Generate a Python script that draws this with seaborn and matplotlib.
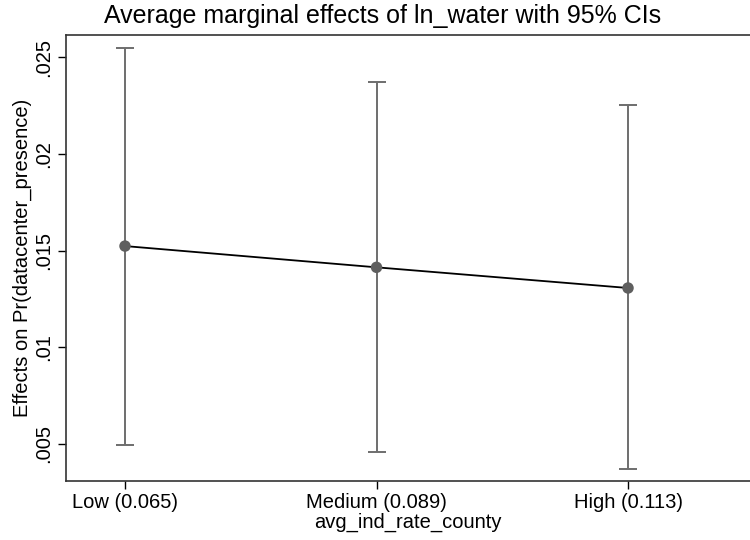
import matplotlib
matplotlib.use("Agg")
import matplotlib.pyplot as plt
import seaborn as sns
import pandas as pd

# Average marginal effects of ln_water at three levels of avg_ind_rate_county
levels = [0.065, 0.089, 0.113]
tick_labels = ["Low (0.065)", "Medium (0.089)", "High (0.113)"]
effects = [0.01523, 0.01413, 0.01306]
ci_low = [0.00495, 0.00455, 0.00367]
ci_high = [0.02550, 0.02374, 0.02252]

df = pd.DataFrame({"level": levels, "effect": effects,
                   "lo": ci_low, "hi": ci_high})

sns.set_theme(style="white")
plt.rcParams["font.family"] = ["Liberation Sans", "DejaVu Sans"]

fig = plt.figure(figsize=(7.5, 5.4), dpi=100)
ax = fig.add_axes([0.088, 0.1093, 0.912, 0.8253])

# confidence intervals
ax.errorbar(df["level"], df["effect"],
            yerr=[df["effect"] - df["lo"], df["hi"] - df["effect"]],
            fmt="none", ecolor="#6e6e6e", elinewidth=1.4,
            capsize=6.5, capthick=1.4, zorder=2)
# connecting line and point estimates
sns.lineplot(data=df, x="level", y="effect", color="black",
             linewidth=1.3, ax=ax, zorder=3)
sns.scatterplot(data=df, x="level", y="effect", color="#5f5f5f",
                s=68, edgecolor="none", ax=ax, zorder=4)

ax.set_xlim(0.05937, 0.12464)
ax.set_ylim(0.00307, 0.02614)

ax.set_xticks(levels)
ax.set_xticklabels(tick_labels)
yt = [0.005, 0.01, 0.015, 0.02, 0.025]
ax.set_yticks(yt)
ax.set_yticklabels([f"{v:g}".lstrip("0") for v in yt],
                   rotation=90, va="center")

ax.tick_params(axis="both", which="major", direction="out", length=5.5,
               width=1.0, color="black", labelsize=14.5,
               left=True, bottom=True, labelcolor="black")
ax.tick_params(axis="x", pad=3)
ax.tick_params(axis="y", pad=4)

for side in ["left", "top", "bottom"]:
    ax.spines[side].set_visible(True)
    ax.spines[side].set_color("#333333")
    ax.spines[side].set_linewidth(1.2)
ax.spines["right"].set_visible(False)

ax.set_xlabel("avg_ind_rate_county", fontsize=14.5, color="black",
              labelpad=1)
ax.set_ylabel("Effects on Pr(datacenter_presence)", fontsize=14.5,
              color="black", labelpad=1)

fig.text(383 / 750, 1 - 23 / 540,
         "Average marginal effects of ln_water with 95% CIs",
         ha="center", va="baseline", fontsize=18, color="black")

fig.savefig("out.png", dpi=100, facecolor="white")
